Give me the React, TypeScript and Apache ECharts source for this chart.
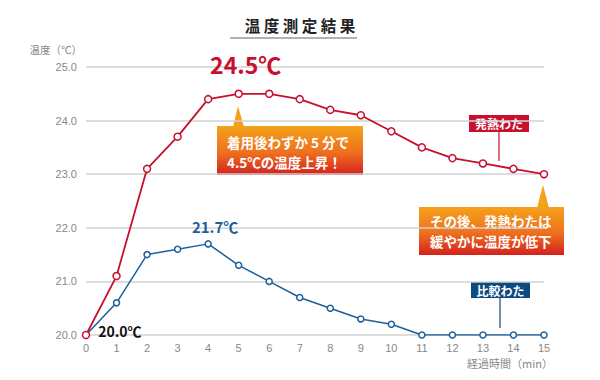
import React, { useEffect, useRef } from "react";
import * as echarts from "echarts";

const minutes = ["0","1","2","3","4","5","6","7","8","9","10","11","12","13","14","15"];
const heatValues = [20.0, 21.1, 23.1, 23.7, 24.4, 24.5, 24.5, 24.4, 24.2, 24.1, 23.8, 23.5, 23.3, 23.2, 23.1, 23.0];
const compareValues = [20.0, 20.6, 21.5, 21.6, 21.7, 21.3, 21.0, 20.7, 20.5, 20.3, 20.2, 20.0, 20.0, 20.0, 20.0, 20.0];
const yTicks = [20, 21, 22, 23, 24, 25];

const RED = "#c8102e";
const BLUE = "#1d5f9b";
const DARKBLUE = "#0d4a80";
const FONT = "'Noto Sans CJK JP', 'Open Sans', sans-serif";
const NUMFONT = "'Liberation Sans', 'DejaVu Sans', sans-serif";

export default function App() {
  const ref = useRef<HTMLDivElement>(null);
  useEffect(() => {
    if (!ref.current) return;
    const chart = echarts.init(ref.current, null, { renderer: "svg" });
    const grad = () =>
      new echarts.graphic.LinearGradient(0, 0, 0, 1, [
        { offset: 0, color: "#f5a21a" },
        { offset: 0.55, color: "#ee6f1f" },
        { offset: 1, color: "#d3211f" },
      ]);
    const heatData = heatValues.map((v, i) =>
      i === 5
        ? {
            value: v,
            label: {
              show: true,
              formatter: "24.5℃",
              position: "top",
              distance: 14,
              offset: [7, 0],
              color: RED,
              fontSize: 23,
              fontWeight: "bold",
              fontFamily: FONT,
            },
          }
        : i === 0
        ? {
            value: v,
            label: {
              show: true,
              formatter: "20.0℃",
              position: "right",
              distance: 8,
              offset: [0, -4],
              color: "#111",
              fontSize: 14,
              lineHeight: 14,
              fontWeight: "bold",
              fontFamily: FONT,
            },
          }
        : v
    );
    const compData = compareValues.map((v, i) =>
      i === 4
        ? {
            value: v,
            label: {
              show: true,
              formatter: "21.7℃",
              position: "top",
              distance: 6,
              offset: [7, 0],
              color: BLUE,
              fontSize: 15,
              fontWeight: "bold",
              fontFamily: FONT,
            },
          }
        : v
    );
    const white = { fill: "#fff", fontSize: 13.5, lineHeight: 16, fontWeight: "bold", fontFamily: FONT, verticalAlign: "middle" };
    chart.setOption({
      animation: false,
      backgroundColor: "#ffffff",
      textStyle: { fontFamily: FONT },
      grid: { left: 86, right: 56, top: 67, bottom: 45, containLabel: false, outerBoundsMode: "none" },
      xAxis: {
        type: "category",
        data: minutes,
        boundaryGap: false,
        axisLine: { show: false },
        axisTick: { show: false },
        axisLabel: { color: "#888", fontSize: 11, margin: 7, lineHeight: 11, fontFamily: NUMFONT },
        splitLine: { show: false },
      },
      yAxis: {
        type: "value",
        min: yTicks[0],
        max: yTicks[yTicks.length - 1],
        interval: 1,
        name: "温度（℃）",
        nameLocation: "end",
        nameGap: 12,
        nameTextStyle: { color: "#888", fontSize: 10.5, align: "right", padding: [0, 4, 0, 0] },
        axisLine: { show: false },
        axisTick: { show: false },
        axisLabel: { color: "#888", fontSize: 11, margin: 9, fontFamily: NUMFONT, formatter: (v: number) => v.toFixed(1) },
        splitLine: { lineStyle: { color: "#d2d2d2", width: 1.5 } },
      },
      series: [
        {
          type: "line",
          name: "比較わた",
          data: compData,
          symbol: "circle",
          symbolSize: 6,
          itemStyle: { color: "#ffffff", borderColor: BLUE, borderWidth: 1.5 },
          lineStyle: { color: BLUE, width: 1.5 },
          z: 3,
        },
        {
          type: "line",
          name: "発熱わた",
          data: heatData,
          symbol: "circle",
          symbolSize: 7,
          itemStyle: { color: "#ffffff", borderColor: RED, borderWidth: 1.5 },
          lineStyle: { color: RED, width: 1.8 },
          z: 4,
        },
      ],
      graphic: [
        {
          type: "text",
          left: "center",
          top: 17,
          style: { text: "温 度 測 定 結 果", fill: "#222", fontSize: 15.5, fontWeight: "bold", fontFamily: FONT },
        },
        { type: "line", shape: { x1: 230, y1: 38, x2: 357, y2: 38 }, style: { stroke: "#999", lineWidth: 1.5 } },
        {
          type: "text",
          x: 553,
          y: 362.5,
          style: { text: "経過時間（min）", fill: "#888", fontSize: 11, lineHeight: 12, align: "right", verticalAlign: "middle", fontFamily: FONT },
        },
        // callout 1
        { type: "polygon", shape: { points: [[233, 127], [238, 106], [244, 127]] }, style: { fill: "#f5a21a" } },
        { type: "rect", shape: { x: 217, y: 126, width: 146, height: 49 }, style: { fill: grad() } },
        { type: "text", x: 227, y: 141.5, style: { ...white, text: "着用後わずか 5 分で" } },
        { type: "text", x: 227, y: 161.5, style: { ...white, text: "4.5℃の温度上昇！" } },
        // callout 2
        { type: "polygon", shape: { points: [[537, 208], [543, 185], [549, 208]] }, style: { fill: "#f5a21a" } },
        { type: "rect", shape: { x: 419, y: 207, width: 145, height: 48 }, style: { fill: grad() } },
        { type: "text", x: 430, y: 221, style: { ...white, text: "その後、発熱わたは" } },
        { type: "text", x: 430, y: 241, style: { ...white, text: "緩やかに温度が低下" } },
        // series tags
        { type: "line", shape: { x1: 499, y1: 132, x2: 499, y2: 161 }, style: { stroke: RED, lineWidth: 1.2 } },
        { type: "rect", shape: { x: 469, y: 115, width: 60, height: 17 }, style: { fill: RED } },
        {
          type: "text",
          x: 499,
          y: 123.5,
          style: { text: "発熱わた", fill: "#fff", fontSize: 12, fontWeight: "bold", align: "center", verticalAlign: "middle", fontFamily: FONT },
        },
        { type: "line", shape: { x1: 500, y1: 298, x2: 500, y2: 328 }, style: { stroke: DARKBLUE, lineWidth: 1.2 } },
        { type: "rect", shape: { x: 471, y: 282, width: 59, height: 16 }, style: { fill: DARKBLUE } },
        {
          type: "text",
          x: 500.5,
          y: 290,
          style: { text: "比較わた", fill: "#fff", fontSize: 12, fontWeight: "bold", align: "center", verticalAlign: "middle", fontFamily: FONT },
        },
      ],
    });
    return () => chart.dispose();
  }, []);
  return <div ref={ref} style={{ position: "fixed", left: 0, top: 0, width: 600, height: 380 }} />;
}
